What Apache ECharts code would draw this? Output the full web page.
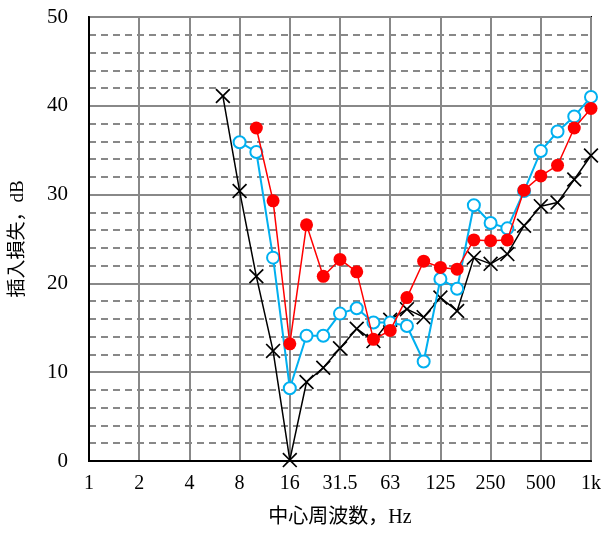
<!DOCTYPE html>
<html>
<head>
<meta charset="utf-8">
<script src="https://cdn.jsdelivr.net/npm/echarts@6/dist/echarts.min.js"></script>
<style>html,body{margin:0;padding:0;background:#fff}#c{width:605px;height:533px}</style>
</head>
<body>
<div id="c"></div>
<script>
// 1/3-octave centre frequencies (Hz)
var categories = ['1','1.25','1.6','2','2.5','3.15','4','5','6.3','8','10','12.5','16','20','25','31.5','40','50','63','80','100','125','160','200','250','315','400','500','630','800','1k'];
// labelled octave ticks
var tickLabels = ['1','2','4','8','16','31.5','63','125','250','500','1k'];
// black crosses, 6.3 Hz .. 1 kHz
var seriesBlack = [null,null,null,null,null,null,null,null,
  41.1,30.4,20.8,12.4,0.1,8.9,10.5,12.7,14.9,13.5,15.9,17.1,16.2,18.4,16.9,22.9,22.2,23.3,26.5,28.7,29.1,31.7,34.4];
// blue open circles, 8 Hz .. 1 kHz
var seriesBlue = [null,null,null,null,null,null,null,null,null,
  35.9,34.8,22.9,8.2,14.1,14.1,16.6,17.2,15.6,15.6,15.2,11.2,20.5,19.4,28.8,26.8,26.2,30.4,34.9,37.1,38.8,41.0];
// red filled circles, 10 Hz .. 1 kHz
var seriesRed = [null,null,null,null,null,null,null,null,null,null,
  37.5,29.3,13.2,26.6,20.8,22.7,21.3,13.7,14.7,18.4,22.5,21.8,21.6,24.9,24.8,24.9,30.5,32.1,33.3,37.5,39.7];

var crossPath = 'path://M0,0.8 L0.8,0 L5,4.2 L9.2,0 L10,0.8 L5.8,5 L10,9.2 L9.2,10 L5,5.8 L0.8,10 L0,9.2 L4.2,5 Z';
var serif = '"Liberation Serif","Noto Sans CJK JP",serif';
var octaveIdx = function (i) { return i % 3 === 0; };

var chart = echarts.init(document.getElementById('c'), null, {renderer: 'canvas'});
chart.setOption({
  animation: false,
  backgroundColor: '#fff',
  grid: {left: 89, right: 14, top: 17, bottom: 70, show: true, borderColor: '#000', borderWidth: 2, backgroundColor: 'transparent'},
  xAxis: {
    type: 'category',
    data: categories,
    boundaryGap: false,
    name: '中心周波数，Hz',
    nameLocation: 'middle',
    nameGap: 47,
    nameTextStyle: {fontFamily: serif, fontSize: 20, color: '#000'},
    axisLine: {show: true, lineStyle: {color: '#000', width: 2}},
    axisTick: {show: false},
    axisLabel: {
      interval: function (i) { return octaveIdx(i); },
      formatter: function (v, i) { return octaveIdx(i) ? tickLabels[i / 3] : ''; },
      fontFamily: serif, fontSize: 20, color: '#000', margin: 13
    },
    splitLine: {show: true, interval: function (i) { return octaveIdx(i); }, lineStyle: {color: '#888', width: 2}}
  },
  yAxis: {
    type: 'value',
    min: 0, max: 50, interval: 10,
    name: '插入損失，dB',
    nameLocation: 'middle',
    nameGap: 61,
    nameTextStyle: {fontFamily: serif, fontSize: 19, color: '#000'},
    axisLine: {show: true, lineStyle: {color: '#000', width: 2}},
    axisTick: {show: false},
    axisLabel: {fontFamily: serif, fontSize: 21, color: '#000', margin: 21},
    splitLine: {show: true, lineStyle: {color: '#888', width: 2}},
    minorTick: {show: false, splitNumber: 5},
    minorSplitLine: {show: true, lineStyle: {color: '#888', width: 2, type: [7, 5]}}
  },
  series: [
    {
      type: 'line', data: seriesBlack, showAllSymbol: true,
      symbol: crossPath, symbolSize: 15,
      itemStyle: {color: '#000'},
      lineStyle: {color: '#000', width: 1.5}, z: 3
    },
    {
      type: 'line', data: seriesBlue, showAllSymbol: true,
      symbol: 'circle', symbolSize: 12,
      itemStyle: {color: '#fff', borderColor: '#00B0F0', borderWidth: 2},
      lineStyle: {color: '#00B0F0', width: 2}, z: 4
    },
    {
      type: 'line', data: seriesRed, showAllSymbol: true,
      symbol: 'circle', symbolSize: 13,
      itemStyle: {color: '#FF0000', borderColor: '#FF0000', borderWidth: 0},
      lineStyle: {color: '#FF0000', width: 1.5}, z: 5
    }
  ]
});
</script>
</body>
</html>
